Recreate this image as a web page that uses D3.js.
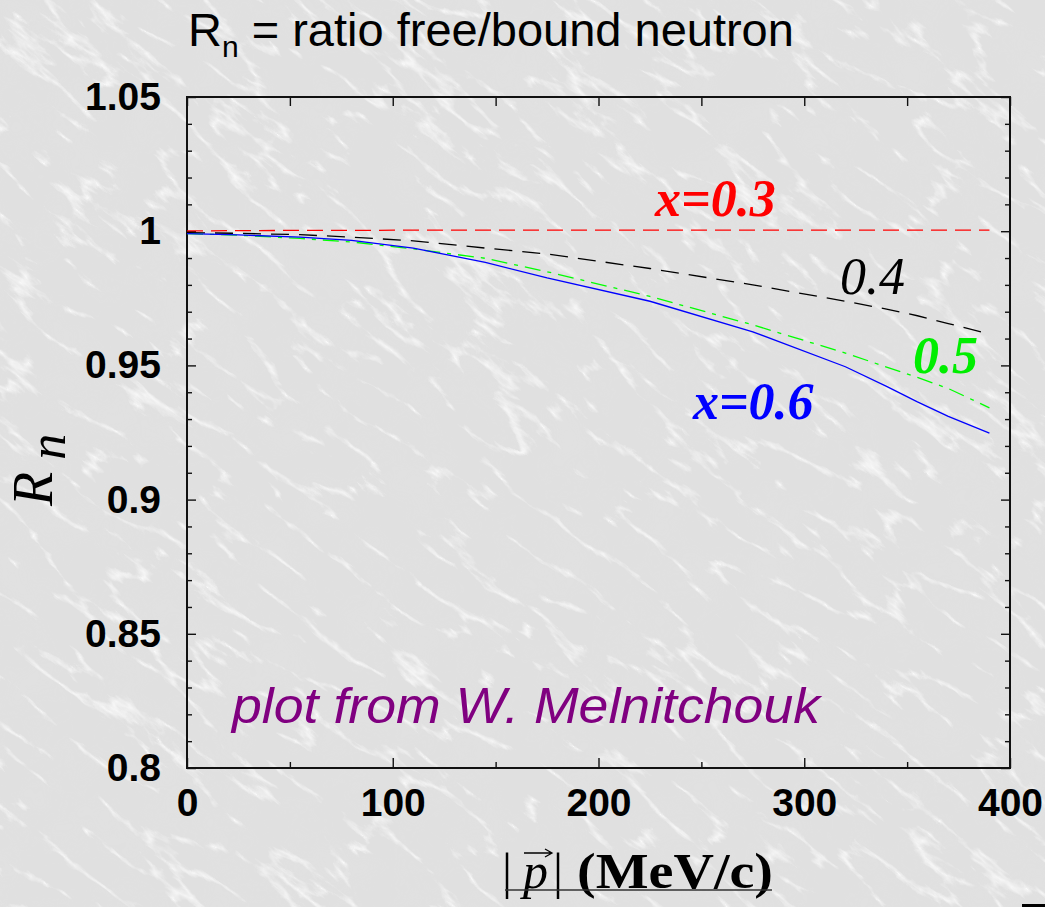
<!DOCTYPE html>
<html>
<head>
<meta charset="utf-8">
<script src="https://cdn.jsdelivr.net/npm/d3@7"></script>
<style>
  html, body { margin: 0; padding: 0; background: #dedede; overflow: hidden; }
  svg { display: block; }
</style>
</head>
<body>
<script>
// Momentum grid (MeV/c) shared by all curves
const momentum = [0, 25, 55, 80, 110, 145, 175, 225, 275, 320, 340, 355, 370, 390];

// Ratio free/bound neutron structure function for several Bjorken x
const ratioX03 = [1.0001, 1.0002, 1.0003, 1.0003, 1.0004, 1.0004, 1.0004, 1.0004, 1.0004, 1.0004, 1.0004, 1.0004, 1.0004, 1.0004];
const ratioX04 = [0.9995, 0.9992, 0.9987, 0.9978, 0.9964, 0.9937, 0.9915, 0.9861, 0.9800, 0.9739, 0.9710, 0.9685, 0.9656, 0.9617];
const ratioX05 = [0.9991, 0.9985, 0.9973, 0.9960, 0.9934, 0.9899, 0.9849, 0.9757, 0.9651, 0.9546, 0.9494, 0.9455, 0.9414, 0.9342];
const ratioX06 = [0.9991, 0.9986, 0.9978, 0.9966, 0.9937, 0.9884, 0.9826, 0.9739, 0.9625, 0.9495, 0.9422, 0.9364, 0.9310, 0.9248];

// Axis ticks
const xMajorTicks = [0, 100, 200, 300, 400];
const xMinorTicks = [50, 150, 250, 350];
const yMajorTicks = [0.8, 0.85, 0.9, 0.95, 1, 1.05];
const yMinorTickValues = [0.81, 0.82, 0.83, 0.84, 0.86, 0.87, 0.88, 0.89, 0.91, 0.92, 0.93, 0.94,
                          0.96, 0.97, 0.98, 0.99, 1.01, 1.02, 1.03, 1.04];
const yTickLabels = ["0.8", "0.85", "0.9", "0.95", "1", "1.05"];

// Curve labels: text, anchor point (momentum, ratio), colour, weight
const curveLabels = [
  { text: "x=0.3", p: 227.5, r: 1.0056, color: "#ff0000", weight: "bold" },
  { text: "0.4",   p: 317.4, r: 0.9765, color: "#000000", weight: "normal" },
  { text: "0.5",   p: 352.9, r: 0.9470, color: "#00ee00", weight: "bold" },
  { text: "x=0.6", p: 245.9, r: 0.9299, color: "#0000ff", weight: "bold" }
];

const W = 1045, H = 907;
const frame = { left: 187, right: 1010, top: 97, bottom: 768 };

const svg = d3.select("body").append("svg").attr("width", W).attr("height", H);
const defs = svg.append("defs");

// Grey marble backdrop: soft mottling plus a network of thin white veins
const flt = defs.append("filter").attr("id", "veins")
  .attr("x", 0).attr("y", 0).attr("width", 1).attr("height", 1);
flt.append("feTurbulence").attr("type", "turbulence")
  .attr("baseFrequency", "0.009 0.03").attr("numOctaves", 5).attr("seed", 11).attr("result", "t");
flt.append("feColorMatrix").attr("in", "t").attr("type", "matrix")
  .attr("values", "0 0 0 0 1  0 0 0 0 1  0 0 0 0 1  -5 0 0 0 1.0");

const flt2 = defs.append("filter").attr("id", "mottle")
  .attr("x", 0).attr("y", 0).attr("width", 1).attr("height", 1);
flt2.append("feTurbulence").attr("type", "fractalNoise")
  .attr("baseFrequency", "0.02 0.02").attr("numOctaves", 3).attr("seed", 4).attr("result", "n");
flt2.append("feColorMatrix").attr("in", "n").attr("type", "matrix")
  .attr("values", "0 0 0 0 0.78  0 0 0 0 0.78  0 0 0 0 0.78  0 0 0 -1.6 1.0");

svg.append("rect").attr("width", W).attr("height", H).attr("fill", "#e0e0e0");
svg.append("rect").attr("width", W).attr("height", H).attr("filter", "url(#mottle)").attr("opacity", 0.3);
svg.append("g").attr("transform", `translate(${W / 2},${H / 2}) rotate(38)`)
  .append("rect").attr("x", -900).attr("y", -900).attr("width", 1800).attr("height", 1800)
  .attr("filter", "url(#veins)").attr("opacity", 0.85);

// Scales
const x = d3.scaleLinear().domain([0, 400]).range([frame.left, frame.right]);
const y = d3.scaleLinear().domain([0.8, 1.05]).range([frame.bottom, frame.top]);

const axisFont = "'Liberation Sans', Arial, Helvetica, sans-serif";

function styleAxis(g) {
  g.select(".domain").remove();
  g.selectAll(".tick line").attr("stroke", "#111").attr("stroke-width", 1.4);
  g.selectAll("text").attr("font-family", axisFont).attr("font-weight", "bold")
    .attr("font-size", 39).attr("fill", "#000");
}

// Bottom axis with labels
svg.append("g").attr("transform", `translate(0,${frame.bottom})`)
  .call(d3.axisBottom(x).tickValues(xMajorTicks).tickSize(-10).tickPadding(20).tickFormat(d3.format("d")))
  .call(styleAxis);
svg.append("g").attr("transform", `translate(0,${frame.bottom})`)
  .call(d3.axisBottom(x).tickValues(xMinorTicks).tickSize(-6).tickFormat(""))
  .call(styleAxis);
// Top axis (ticks only)
svg.append("g").attr("transform", `translate(0,${frame.top})`)
  .call(d3.axisTop(x).tickValues(xMajorTicks.concat(xMinorTicks)).tickSize(-9).tickFormat(""))
  .call(styleAxis);

// Left axis with labels
svg.append("g").attr("transform", `translate(${frame.left},0)`)
  .call(d3.axisLeft(y).tickValues(yMajorTicks).tickSize(-9).tickPadding(26)
    .tickFormat((d, i) => yTickLabels[i]))
  .call(styleAxis);
svg.append("g").attr("transform", `translate(${frame.left},0)`)
  .call(d3.axisLeft(y).tickValues(yMinorTickValues).tickSize(-5).tickFormat(""))
  .call(styleAxis);
// Right axis (ticks only)
svg.append("g").attr("transform", `translate(${frame.right},0)`)
  .call(d3.axisRight(y).tickValues(yMajorTicks).tickSize(-9).tickFormat(""))
  .call(styleAxis);
svg.append("g").attr("transform", `translate(${frame.right},0)`)
  .call(d3.axisRight(y).tickValues(yMinorTickValues).tickSize(-5).tickFormat(""))
  .call(styleAxis);

// Frame
svg.append("rect")
  .attr("x", frame.left).attr("y", frame.top)
  .attr("width", frame.right - frame.left).attr("height", frame.bottom - frame.top)
  .attr("fill", "none").attr("stroke", "#111").attr("stroke-width", 2);

// Curves
const series = [
  { values: ratioX03, color: "#ff0000", dash: "16,8" },
  { values: ratioX04, color: "#000000", dash: "18,10" },
  { values: ratioX05, color: "#00ff00", dash: "16,7,4,7" },
  { values: ratioX06, color: "#0000ff", dash: null }
];
const line = d3.line().x(d => x(d[0])).y(d => y(d[1]));
svg.append("g").selectAll("path").data(series).join("path")
  .attr("d", s => line(momentum.map((p, i) => [p, s.values[i]])))
  .attr("fill", "none")
  .attr("stroke", s => s.color)
  .attr("stroke-width", 1.3)
  .attr("stroke-dasharray", s => s.dash);

// Curve labels
const serif = "'Liberation Serif', 'Times New Roman', Times, serif";
svg.append("g").selectAll("text").data(curveLabels).join("text")
  .attr("x", d => x(d.p)).attr("y", d => y(d.r))
  .attr("font-family", serif).attr("font-style", "italic")
  .attr("font-weight", d => d.weight).attr("font-size", 52)
  .attr("fill", d => d.color)
  .text(d => d.text);

// Credit note
svg.append("text")
  .attr("x", x(21.9)).attr("y", y(0.8168))
  .attr("font-family", axisFont).attr("font-style", "italic")
  .attr("font-size", 50).attr("fill", "#800080")
  .attr("textLength", 588).attr("lengthAdjust", "spacingAndGlyphs")
  .text("plot from W. Melnitchouk");

// Title
const title = svg.append("text").attr("x", 188).attr("y", 46)
  .attr("font-family", axisFont).attr("font-size", 47).attr("fill", "#000");
title.append("tspan").text("R");
title.append("tspan").attr("font-size", 30).attr("dy", 11).text("n");
title.append("tspan").attr("dy", -11).text(" = ratio free/bound neutron");

// Y axis title
const yTitle = svg.append("text")
  .attr("transform", "translate(52,506) rotate(-90)")
  .attr("font-family", serif).attr("font-style", "italic").attr("font-size", 56).attr("fill", "#000");
yTitle.append("tspan").text("R");
yTitle.append("tspan").attr("dx", 12).attr("dy", 13).attr("font-size", 52).text("n");

// X axis title: |p| (MeV/c)
const xt = svg.append("g").attr("font-family", serif).attr("font-size", 50).attr("fill", "#000");
xt.append("text").attr("x", 502).attr("y", 888).text("|");
xt.append("text").attr("x", 523).attr("y", 888).attr("font-style", "italic").text("p");
xt.append("text").attr("x", 553).attr("y", 888).text("|");
xt.append("text").attr("x", 577).attr("y", 888).attr("font-weight", "bold")
  .attr("textLength", 196).attr("lengthAdjust", "spacingAndGlyphs").text("(MeV/c)");
xt.append("path").attr("d", "M524,853H552M545,849L552,853L545,857")
  .attr("fill", "none").attr("stroke", "#000").attr("stroke-width", 1.3);
svg.append("line").attr("x1", 505).attr("x2", 772).attr("y1", 890).attr("y2", 890)
  .attr("stroke", "#333").attr("stroke-width", 1.5);

// Corner mark
svg.append("rect").attr("x", 1022).attr("y", 904).attr("width", 23).attr("height", 3).attr("fill", "#000");
</script>
</body>
</html>
